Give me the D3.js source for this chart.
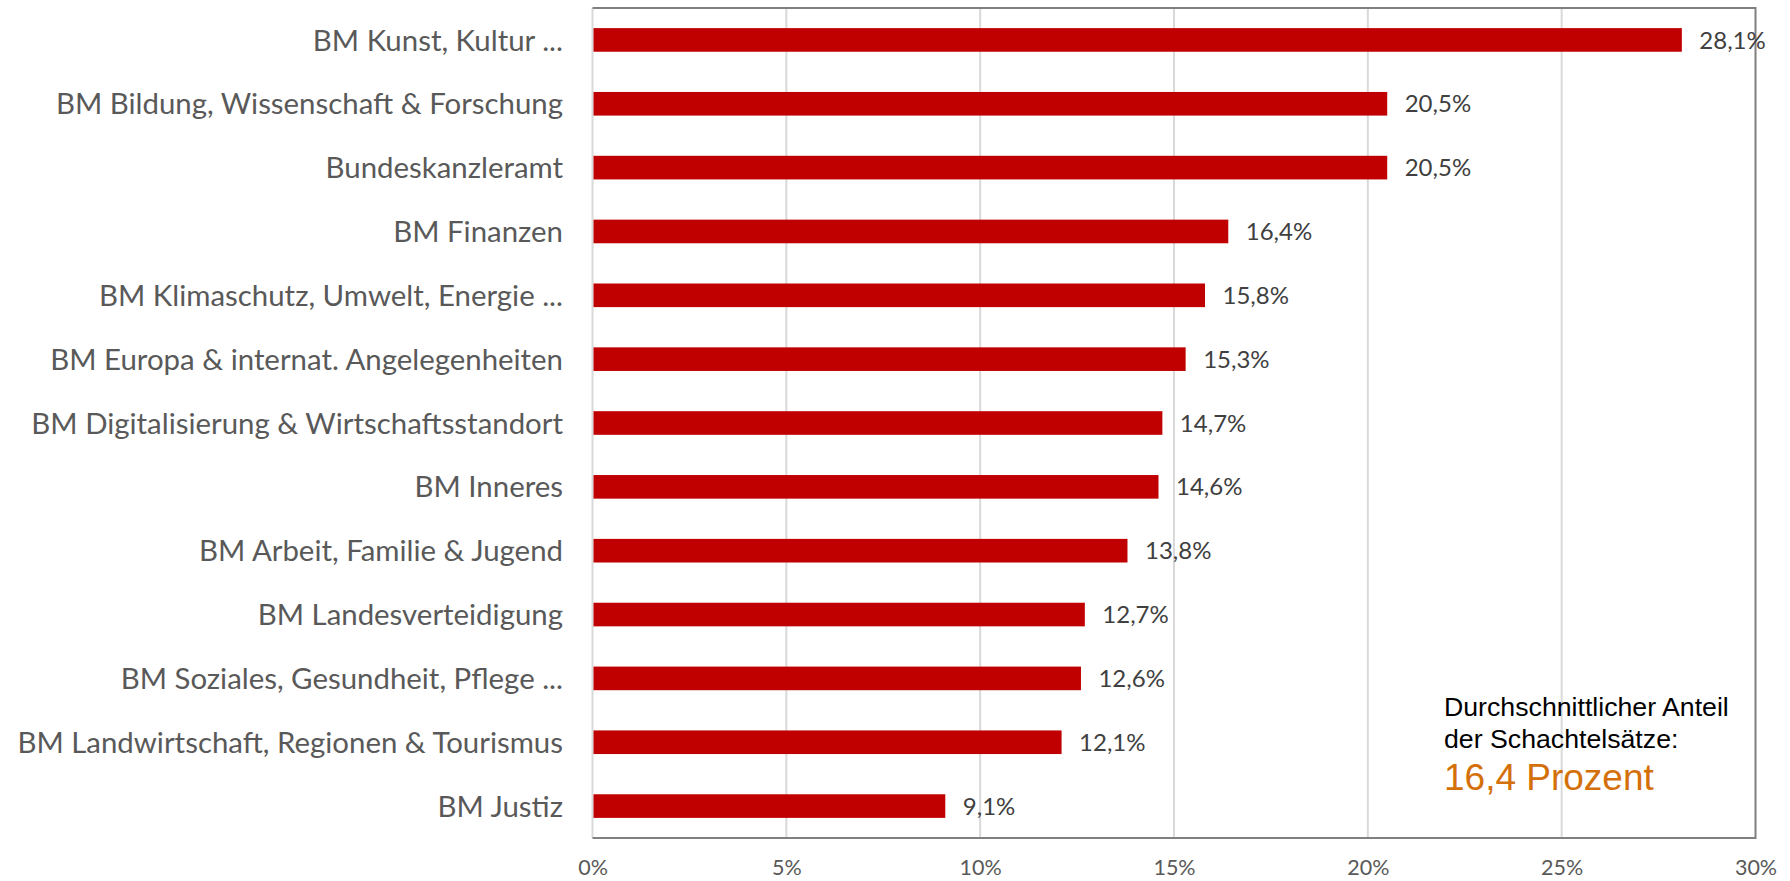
<!DOCTYPE html>
<html><head><meta charset="utf-8">
<script src="https://cdn.jsdelivr.net/npm/d3@7"></script>
<style>body{margin:0;background:#fff}svg{display:block}</style>
</head><body>
<svg id="c" width="1790" height="881"></svg>
<script>
const categories = ["BM Kunst, Kultur ...","BM Bildung, Wissenschaft & Forschung","Bundeskanzleramt","BM Finanzen","BM Klimaschutz, Umwelt, Energie ...","BM Europa & internat. Angelegenheiten","BM Digitalisierung & Wirtschaftsstandort","BM Inneres","BM Arbeit, Familie & Jugend","BM Landesverteidigung","BM Soziales, Gesundheit, Pflege ...","BM Landwirtschaft, Regionen & Tourismus","BM Justiz"];
const values = [28.1,20.5,20.5,16.4,15.8,15.3,14.7,14.6,13.8,12.7,12.6,12.1,9.1];
const xTicks = [0,5,10,15,20,25,30];
const noteLines = ["Durchschnittlicher Anteil","der Schachtelsätze:"];
const noteValue = "16,4 Prozent";

const svg = d3.select("#c");
const L = 592.5, R = 1755.5, T = 8, B = 838;
const x = d3.scaleLinear().domain([0,30]).range([L,R]);
const y = d3.scaleBand().domain(categories).range([T,B]).paddingInner(0.63).paddingOuter(0.315);
const fmt = v => v.toFixed(1).replace(".", ",") + "%";

// gridlines
svg.append("g").selectAll("line").data(xTicks.filter(d=>d>0 && d<30)).join("line")
  .attr("x1",d=>x(d)).attr("x2",d=>x(d)).attr("y1",T).attr("y2",B)
  .attr("stroke","#d9d9d9").attr("stroke-width",2);
// left axis line (light)
svg.append("line").attr("x1",L).attr("x2",L).attr("y1",T).attr("y2",B).attr("stroke","#d9d9d9").attr("stroke-width",2);

// bars
svg.append("g").selectAll("rect").data(values).join("rect")
  .attr("x",x(0)+1).attr("y",(d,i)=>y(categories[i]))
  .attr("width",d=>x(d)-x(0)-1).attr("height",y.bandwidth())
  .attr("fill","#c00000");

// border top/right/bottom
svg.append("path").attr("d",`M${L},${T}H${R}V${B}H${L}`).attr("fill","none").attr("stroke","#808080").attr("stroke-width",2);

// value labels
svg.append("g").selectAll("text").data(values).join("text")
  .attr("x",d=>x(d)+17.5).attr("y",(d,i)=>y(categories[i])+y.bandwidth()/2)
  .attr("dy","0.36em").attr("font-family","Lato").attr("font-size",24).attr("fill","#404040")
  .text(d=>fmt(d));

// category labels
svg.append("g").selectAll("text").data(categories).join("text")
  .attr("x",563).attr("y",d=>y(d)+y.bandwidth()/2).attr("dy","0.36em")
  .attr("text-anchor","end").attr("font-family","Lato").attr("font-size",29.4).attr("fill","#595959")
  .text(d=>d);

// x tick labels
const xa = svg.append("g").attr("transform",`translate(0,${B})`)
  .call(d3.axisBottom(x).tickValues(xTicks).tickSize(0).tickPadding(22).tickFormat(d=>d+"%"));
xa.select(".domain").remove();
xa.selectAll("text").attr("font-family","Lato").attr("font-size",21.5).attr("fill","#595959");

// note
svg.append("g").selectAll("text").data(noteLines).join("text")
  .attr("x",1444).attr("y",(d,i)=>716+i*32).attr("font-family","Liberation Sans, Arial").attr("font-size",26.7).attr("fill","#000")
  .text(d=>d);
svg.append("text").attr("x",1444).attr("y",790).attr("font-family","Liberation Sans, Arial").attr("font-size",37).attr("fill","#d4700a").text(noteValue);
</script>
</body></html>
